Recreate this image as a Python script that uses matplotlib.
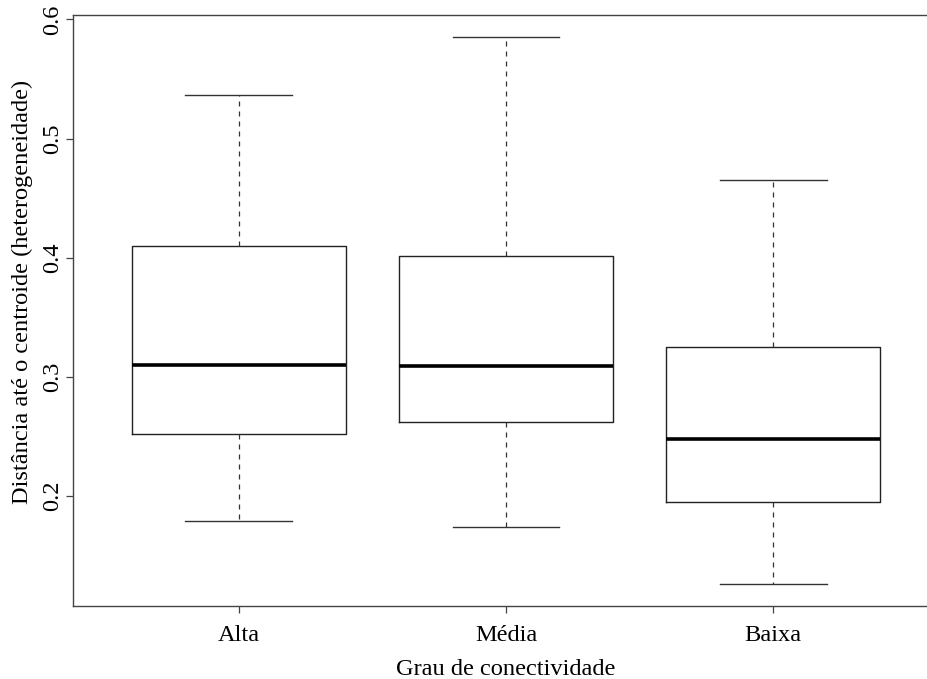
import matplotlib
matplotlib.use('Agg')
import matplotlib.pyplot as plt
import numpy as np

# Box statistics per connectivity class
grupos = ['Alta', 'Média', 'Baixa']
minimo = [0.179, 0.174, 0.126]
q1 = [0.252, 0.262, 0.195]
mediana = [0.310, 0.309, 0.248]
q3 = [0.410, 0.401, 0.325]
maximo = [0.537, 0.585, 0.465]

plt.rcParams['font.family'] = ['Liberation Serif', 'DejaVu Serif']
plt.rcParams['font.size'] = 17.6

stats = []
for i in range(len(grupos)):
    stats.append({'label': grupos[i], 'whislo': minimo[i], 'q1': q1[i],
                  'med': mediana[i], 'q3': q3[i], 'whishi': maximo[i]})

fig = plt.figure(figsize=(9.27, 6.79), dpi=100)
ax = fig.add_axes([0.07875, 0.1078, 0.93419, 0.8694])

pos = np.arange(1, len(grupos) + 1)
ax.bxp(stats, positions=pos, widths=0.8, showfliers=False,
       boxprops=dict(color='#222222', linewidth=1.0),
       medianprops=dict(color='black', linewidth=2.6, solid_capstyle='butt'),
       whiskerprops=dict(color='#333333', linewidth=0.9, linestyle=(0, (4, 4))),
       capprops=dict(color='#333333', linewidth=1.0),
       capwidths=0.4)

# R-style 4% extension around the data range
lo, hi = min(minimo), max(maximo)
r = hi - lo
ax.set_ylim(lo - 0.04 * r, hi + 0.04 * r)
ax.set_xlim(0.5 - 0.12, len(grupos) + 0.5 + 0.12)

ax.set_yticks([0.2, 0.3, 0.4, 0.5, 0.6])
ax.set_yticklabels(['0.2', '0.3', '0.4', '0.5', '0.6'])
for lab in ax.get_yticklabels():
    lab.set_rotation(90)
    lab.set_va('center')
ax.set_xticks(pos)
ax.set_xticklabels(grupos)

for s in ax.spines.values():
    s.set_color('#444444')
    s.set_linewidth(1.0)
ax.tick_params(axis='both', direction='out', length=5, width=0.9, color='#444444')
ax.tick_params(axis='y', pad=2)
ax.tick_params(axis='x', pad=8.5)

ax.set_xlabel('Grau de conectividade')
ax.xaxis.label.set_va('baseline')
ax.xaxis.set_label_coords(0.5, -0.1165)
ax.set_ylabel('Distância até o centroide (heterogeneidade)')
ax.yaxis.label.set_va('center')
ax.yaxis.set_label_coords(-0.0589, 0.5316)

fig.savefig('out.png', dpi=100)
